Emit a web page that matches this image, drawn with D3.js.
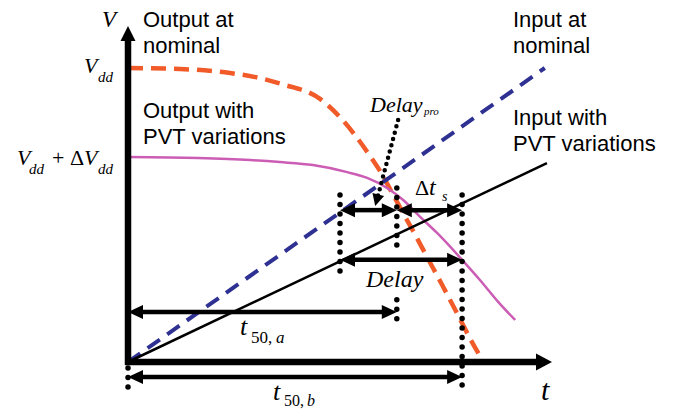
<!DOCTYPE html>
<html>
<head>
<meta charset="utf-8">
<script src="https://cdn.jsdelivr.net/npm/d3@7"></script>
<style>
  body { margin: 0; background: #fff; }
  svg { display: block; }
</style>
</head>
<body>
<div id="chart"></div>
<script>
// values in diagram units: t on 0..100, V on 0..100
const outputNominal = [
  [0, 87.5], [12.3, 87.2], [24.1, 86.0], [31.1, 84.5], [36.3, 82.7], [45.3, 78.3],
  [50.2, 72.6], [53.5, 67.6], [56.6, 62.2], [59.7, 56.3], [62.3, 50.3], [64.9, 44.3],
  [67.5, 38.4], [70.3, 31.8], [74.1, 22.9], [77.8, 14.0], [81.1, 6.0], [83.0, 1.8]
]
const outputPvt = [
  [0, 61.0], [16.5, 60.7], [28.8, 60.1], [35.8, 59.5], [43.6, 58.6], [51.7, 56.5],
  [56.4, 54.8], [61.1, 51.8], [64.9, 48.2], [68.9, 43.2], [72.9, 38.4], [78.8, 30.4],
  [83.0, 24.4], [87.3, 17.9], [91.3, 12.5]
]
const inputNominal = [[0, 0], [98.3, 87.5]]
const inputPvt = [[0, 0], [98.8, 59.2]]

// time markers and levels
const tA = 50.0, tB = 63.4, tC = 78.8
const levelTop = 45.2, levelDelay = 30.4, levelT50a = 14.9, levelT50b = -4.5

// dotted guide lines [t, v1, v2]
const guides = [
  [tA, 49.7, 25.0],
  [tB, 51.8, 32.7],
  [tB, 18.5, 11.9],
  [tC, 49.7, -8.9],
  [0, -1.8, -7.7]
]
// double arrows [t1, t2, v]
const spans = [
  [tA, tB, levelTop],
  [tB, tC, levelTop],
  [tA, tC, levelDelay],
  [0, tB, levelT50a],
  [0, tC, levelT50b]
]
const pointer = [[63.7, 72.0], [58.3, 46.4]]

const W = 685, H = 411
const x = d3.scaleLinear().domain([0, 100]).range([128, 552])
const y = d3.scaleLinear().domain([0, 100]).range([362, 26])

const svg = d3.select('#chart').append('svg')
  .attr('width', W).attr('height', H)
  .attr('viewBox', `0 0 ${W} ${H}`)

svg.append('rect').attr('width', W).attr('height', H).attr('fill', '#fff')

const line = d3.line().x(d => x(d[0])).y(d => y(d[1])).curve(d3.curveMonotoneX)

// curves
svg.append('path').datum(outputNominal).attr('d', line)
  .attr('fill', 'none').attr('stroke', '#F15A29').attr('stroke-width', 4.5)
  .attr('stroke-dasharray', '15,8')
svg.append('path').datum(outputPvt).attr('d', line)
  .attr('fill', 'none').attr('stroke', '#CC5DB5').attr('stroke-width', 2.5)
svg.append('path').datum(inputNominal).attr('d', line)
  .attr('fill', 'none').attr('stroke', '#2E3192').attr('stroke-width', 4)
  .attr('stroke-dasharray', '15,9')
svg.append('path').datum(inputPvt).attr('d', line)
  .attr('fill', 'none').attr('stroke', '#000').attr('stroke-width', 2.5)

// dotted guides
svg.append('g').selectAll('line').data(guides).join('line')
  .attr('x1', d => x(d[0])).attr('x2', d => x(d[0]))
  .attr('y1', d => y(d[1])).attr('y2', d => y(d[2]))
  .attr('stroke', '#000').attr('stroke-width', 5.5)
  .attr('stroke-linecap', 'round').attr('stroke-dasharray', '0,9.5')

// arrow helper, pixel coordinates
function arrow(g, x1, y1, x2, y2, o) {
  const len = Math.hypot(x2 - x1, y2 - y1)
  const ux = (x2 - x1) / len, uy = (y2 - y1) / len
  const px = -uy, py = ux
  const hl = o.headLen, hw = o.headW
  const sx = o.start ? x1 + ux * (hl - 1) : x1
  const sy = o.start ? y1 + uy * (hl - 1) : y1
  const ex = o.end ? x2 - ux * (hl - 1) : x2
  const ey = o.end ? y2 - uy * (hl - 1) : y2
  g.append('line').attr('x1', sx).attr('y1', sy).attr('x2', ex).attr('y2', ey)
    .attr('stroke', '#000').attr('stroke-width', o.width)
    .attr('stroke-dasharray', o.dash || null)
    .attr('stroke-linecap', o.dash ? 'round' : 'butt')
  const head = (tx, ty, dx, dy) => {
    const bx = tx - dx * hl, by = ty - dy * hl
    g.append('path')
      .attr('d', `M${tx},${ty}L${bx + px * hw},${by + py * hw}L${bx - px * hw},${by - py * hw}Z`)
      .attr('fill', '#000')
  }
  if (o.end) head(x2, y2, ux, uy)
  if (o.start) head(x1, y1, -ux, -uy)
}

const ga = svg.append('g')
spans.forEach(s => {
  arrow(ga, x(s[0]), y(s[2]), x(s[1]), y(s[2]), { start: true, end: true, width: 4.5, headLen: 15, headW: 7 })
})
arrow(ga, x(pointer[0][0]), y(pointer[0][1]), x(pointer[1][0]), y(pointer[1][1]),
  { start: false, end: true, width: 4.5, headLen: 12, headW: 6, dash: '0,6.5' })

// axes
arrow(ga, x(0), y(0) + 3, x(0), y(100), { start: false, end: true, width: 6.5, headLen: 15, headW: 7.5 })
arrow(ga, x(0) - 3, y(0), x(100), y(0), { start: false, end: true, width: 6.5, headLen: 16, headW: 8.5 })

// text
const sans = '"Liberation Sans", Arial, sans-serif'
const serif = '"Liberation Serif", "Times New Roman", serif'

function label(lines, px, py) {
  lines.forEach((t, i) => {
    svg.append('text').attr('x', px).attr('y', py + i * 26)
      .attr('font-family', sans).attr('font-size', 22).attr('fill', '#000').text(t)
  })
}
label(['Output at', 'nominal'], 143, 27)
label(['Output with', 'PVT variations'], 143, 118)
label(['Input at', 'nominal'], 513, 27)
label(['Input with', 'PVT variations'], 513, 125)

function math(px, py, parts) {
  const t = svg.append('text').attr('x', px).attr('y', py)
    .attr('font-family', serif).attr('fill', '#000')
  parts.forEach(p => {
    t.append('tspan')
      .attr('x', p.x != null ? p.x : null)
      .attr('y', p.y != null ? p.y : null)
      .attr('font-size', p.size)
      .attr('font-style', p.italic ? 'italic' : 'normal')
      .text(p.s)
  })
}

math(102, 27, [{ s: 'V', size: 23, italic: true }])
math(541, 400, [{ s: 't', size: 30, italic: true }])
math(84, 73, [
  { s: 'V', size: 22, italic: true },
  { s: 'dd', size: 15, italic: true, x: 98, y: 82 }
])
math(17, 165, [
  { s: 'V', size: 22, italic: true },
  { s: 'dd', size: 15, italic: true, x: 29, y: 174 },
  { s: '+', size: 22, x: 52, y: 165 },
  { s: 'Δ', size: 22, x: 70, y: 165 },
  { s: 'V', size: 22, italic: true, x: 84, y: 165 },
  { s: 'dd', size: 15, italic: true, x: 98, y: 174 }
])
math(370, 112, [
  { s: 'Delay', size: 22, italic: true },
  { s: 'pro', size: 11, italic: true, x: 424, y: 115 }
])
math(415, 195, [
  { s: 'Δ', size: 22 },
  { s: 't', size: 24, italic: true, x: 429, y: 195 },
  { s: 's', size: 14, italic: true, x: 442, y: 201 }
])
math(366, 287, [{ s: 'Delay', size: 24, italic: true }])
math(240, 335, [
  { s: 't', size: 26, italic: true },
  { s: '50,', size: 17, x: 251, y: 343 },
  { s: 'a', size: 17, italic: true, x: 276, y: 343 }
])
math(273, 400, [
  { s: 't', size: 26, italic: true },
  { s: '50,', size: 16, x: 284, y: 406 },
  { s: 'b', size: 16, italic: true, x: 307, y: 406 }
])
</script>
</body>
</html>
